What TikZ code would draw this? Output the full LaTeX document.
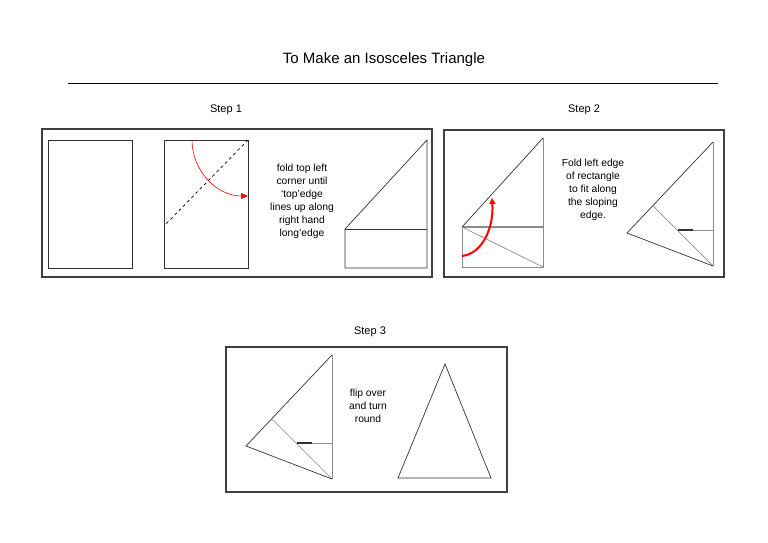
\documentclass[tikz,border=0pt]{standalone}
\usepackage{fontspec}
\setmainfont{Liberation Sans}
\usetikzlibrary{arrows.meta}

\begin{document}
\begin{tikzpicture}[x=1pt, y=-1pt, line width=0.6pt,
        frame/.style={draw=black!75,line width=1.1pt},
        paper/.style={draw=black!80,line width=0.7pt},
        crease/.style={draw=black!45,line width=0.7pt},
        steplbl/.style={font=\fontsize{11}{12}\selectfont,inner sep=0pt},
        note/.style={font=\fontsize{10.3}{13}\selectfont,align=center,inner sep=0pt},
        turn/.style={draw=red,-{Triangle[length=7pt,width=6pt]}}]
      \useasboundingbox (0,0) rectangle (768,543);
      \colorlet{fold}{red}
      % folded kite, top corner at (#1,#2)
      \newcommand{\kite}[2]{%
        \coordinate (T) at (#1,#2);
        \coordinate (B) at (#1,{#2+124});
        \coordinate (L) at ({#1-86},{#2+91});
        \coordinate (M) at ({#1-60},{#2+64});
        \coordinate (S) at ({#1-35},{#2+88});
        \draw[crease] (T) -- (B);
        \draw[crease] (M) -- (B);
        \draw[crease] (S) -- (#1,{#2+88});
        \draw[paper] (T) -- (L) -- (B);
        \draw[paper,line width=1.3pt] (S) -- ({#1-20},{#2+88});
      }
      \node[font=\fontsize{15}{18}\selectfont] (title) at (384,60) {To Make an Isosceles Triangle};
      \draw[line width=0.9pt] (68,83) -- (718,83);
      \node[steplbl] (s1) at (226,110) {Step 1};
      \node[steplbl] (s2) at (584,110) {Step 2};
      \node[steplbl] (s3) at (370,332) {Step 3};
      \draw[frame] (42,129) rectangle (432,277);
      \draw[frame] (444,130) rectangle (724,277);
      \draw[frame] (226,347) rectangle (507,492);
      % step 1
      \draw[paper] (48,140) rectangle (132,268);
      \draw[paper] (164,140) rectangle (248,268);
      \draw[black,dashed,line width=0.7pt] (248,140) -- (164,226);
      \draw[turn] (192,140) .. controls (192,171) and (217,196) .. (248,196);
      \node[note] (t1) at (302,201) {fold top left\\corner until\\`top'edge\\lines up along\\right hand\\long'edge};
      \draw[paper] (345,229) -- (427,140) -- (427,268) -- (345,268) -- cycle;
      \draw[paper] (345,229) -- (427,229);
      % step 2
      \draw[crease] (543,138) -- (543,267) -- (462,267) -- (462,227);
      \draw[crease,line width=1.3pt] (462,227) -- (543,227);
      \draw[crease] (462,227) -- (543,267);
      \draw[paper] (462,227) -- (543,138);
      \draw[turn,line width=2pt,-{Triangle[length=6pt,width=6pt]}] (462,256) .. controls (482,254) and (494,228) .. (492,198);
      \node[note] (t2) at (593,190) {Fold left edge\\of rectangle\\to fit along\\the sloping\\edge.};
      \kite{713}{142}
      % step 3
      \kite{332}{355}
      \node[note] (t3) at (368,406) {flip over\\and turn\\round};
      \draw[paper] (445,364) -- (491,478) -- (398,478) -- cycle;
\end{tikzpicture}
\end{document}
